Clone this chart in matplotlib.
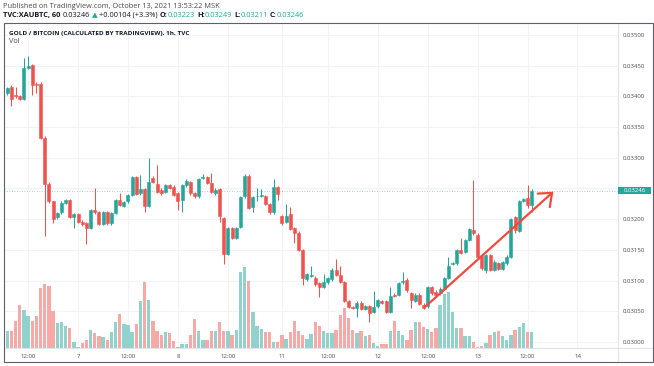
import matplotlib
matplotlib.use("Agg")
import matplotlib.pyplot as plt
import matplotlib.transforms as mtransforms
from matplotlib.patches import Rectangle, FancyArrowPatch
from matplotlib.lines import Line2D

# ---------------- data ----------------
opens = [0.03406, 0.03416, 0.03402, 0.03401, 0.03396, 0.03446, 0.03451, 0.03421, 0.03421, 0.03333,
         0.03258, 0.03229, 0.03204, 0.03211, 0.03226, 0.03231, 0.03204, 0.03208, 0.03196, 0.03194,
         0.03186, 0.03215, 0.03211, 0.03192, 0.03211, 0.03193, 0.03210, 0.03231, 0.03222, 0.03229,
         0.03239, 0.03268, 0.03242, 0.03249, 0.03222, 0.03267, 0.03258, 0.03248, 0.03244, 0.03255,
         0.03253, 0.03242, 0.03231, 0.03255, 0.03261, 0.03243, 0.03237, 0.03267, 0.03269, 0.03259,
         0.03242, 0.03249, 0.03202, 0.03143, 0.03185, 0.03170, 0.03187, 0.03237, 0.03271, 0.03220,
         0.03237, 0.03238, 0.03238, 0.03225, 0.03211, 0.03252, 0.03205, 0.03196, 0.03208, 0.03185,
         0.03178, 0.03150, 0.03102, 0.03108, 0.03105, 0.03096, 0.03090, 0.03097, 0.03102, 0.03117,
         0.03109, 0.03097, 0.03067, 0.03057, 0.03055, 0.03064, 0.03054, 0.03059, 0.03049, 0.03058,
         0.03066, 0.03066, 0.03049, 0.03077, 0.03077, 0.03097, 0.03101, 0.03080, 0.03067, 0.03077,
         0.03061, 0.03058, 0.03090, 0.03082, 0.03079, 0.03087, 0.03104, 0.03127, 0.03128, 0.03150,
         0.03147, 0.03166, 0.03182, 0.03175, 0.03140, 0.03118, 0.03142, 0.03117, 0.03128, 0.03119,
         0.03128, 0.03139, 0.03204, 0.03181, 0.03230, 0.03235, 0.03223]
highs = [0.03416, 0.03418, 0.03416, 0.03403, 0.03462, 0.03466, 0.03453, 0.03424, 0.03423, 0.03335,
         0.03260, 0.03230, 0.03212, 0.03229, 0.03233, 0.03233, 0.03210, 0.03210, 0.03198, 0.03196,
         0.03217, 0.03250, 0.03213, 0.03213, 0.03213, 0.03212, 0.03233, 0.03243, 0.03230, 0.03241,
         0.03270, 0.03270, 0.03272, 0.03251, 0.03299, 0.03270, 0.03288, 0.03250, 0.03257, 0.03257,
         0.03255, 0.03244, 0.03257, 0.03265, 0.03263, 0.03245, 0.03267, 0.03274, 0.03271, 0.03275,
         0.03250, 0.03251, 0.03204, 0.03187, 0.03187, 0.03187, 0.03238, 0.03273, 0.03273, 0.03238,
         0.03250, 0.03249, 0.03240, 0.03227, 0.03265, 0.03254, 0.03207, 0.03224, 0.03220, 0.03187,
         0.03180, 0.03152, 0.03112, 0.03123, 0.03107, 0.03098, 0.03110, 0.03106, 0.03120, 0.03135,
         0.03123, 0.03099, 0.03069, 0.03059, 0.03066, 0.03066, 0.03061, 0.03061, 0.03083, 0.03070,
         0.03068, 0.03068, 0.03090, 0.03079, 0.03098, 0.03114, 0.03105, 0.03082, 0.03079, 0.03079,
         0.03063, 0.03092, 0.03092, 0.03084, 0.03089, 0.03106, 0.03138, 0.03130, 0.03152, 0.03169,
         0.03168, 0.03186, 0.03264, 0.03177, 0.03142, 0.03144, 0.03144, 0.03133, 0.03130, 0.03132,
         0.03141, 0.03202, 0.03206, 0.03232, 0.03235, 0.03256, 0.03249]
lows = [0.03403, 0.03385, 0.03397, 0.03394, 0.03394, 0.03444, 0.03402, 0.03405, 0.03331, 0.03172,
        0.03226, 0.03194, 0.03200, 0.03208, 0.03224, 0.03202, 0.03185, 0.03193, 0.03189, 0.03160,
        0.03184, 0.03209, 0.03190, 0.03190, 0.03191, 0.03191, 0.03208, 0.03221, 0.03220, 0.03227,
        0.03237, 0.03239, 0.03240, 0.03211, 0.03220, 0.03259, 0.03243, 0.03240, 0.03242, 0.03249,
        0.03237, 0.03215, 0.03211, 0.03253, 0.03240, 0.03235, 0.03235, 0.03265, 0.03257, 0.03243,
        0.03240, 0.03196, 0.03127, 0.03141, 0.03168, 0.03168, 0.03185, 0.03235, 0.03217, 0.03212,
        0.03229, 0.03236, 0.03223, 0.03209, 0.03209, 0.03232, 0.03191, 0.03194, 0.03182, 0.03161,
        0.03148, 0.03093, 0.03100, 0.03106, 0.03092, 0.03074, 0.03088, 0.03095, 0.03100, 0.03107,
        0.03096, 0.03065, 0.03055, 0.03053, 0.03041, 0.03052, 0.03052, 0.03033, 0.03047, 0.03056,
        0.03062, 0.03047, 0.03047, 0.03073, 0.03075, 0.03095, 0.03082, 0.03055, 0.03065, 0.03060,
        0.03053, 0.03056, 0.03077, 0.03075, 0.03077, 0.03085, 0.03102, 0.03125, 0.03126, 0.03143,
        0.03145, 0.03164, 0.03175, 0.03136, 0.03118, 0.03113, 0.03116, 0.03115, 0.03117, 0.03117,
        0.03126, 0.03137, 0.03177, 0.03179, 0.03228, 0.03218, 0.03211]
closes = [0.03413, 0.03396, 0.03400, 0.03396, 0.03446, 0.03450, 0.03419, 0.03418, 0.03333, 0.03258,
          0.03229, 0.03201, 0.03210, 0.03227, 0.03231, 0.03204, 0.03208, 0.03196, 0.03192, 0.03186,
          0.03215, 0.03211, 0.03192, 0.03211, 0.03193, 0.03210, 0.03231, 0.03223, 0.03228, 0.03239,
          0.03268, 0.03241, 0.03249, 0.03222, 0.03261, 0.03261, 0.03245, 0.03242, 0.03255, 0.03251,
          0.03239, 0.03230, 0.03255, 0.03263, 0.03242, 0.03237, 0.03265, 0.03269, 0.03259, 0.03245,
          0.03248, 0.03205, 0.03144, 0.03185, 0.03170, 0.03185, 0.03236, 0.03271, 0.03219, 0.03236,
          0.03238, 0.03239, 0.03225, 0.03211, 0.03252, 0.03241, 0.03193, 0.03205, 0.03184, 0.03178,
          0.03150, 0.03105, 0.03110, 0.03109, 0.03094, 0.03090, 0.03097, 0.03104, 0.03118, 0.03109,
          0.03098, 0.03067, 0.03057, 0.03055, 0.03064, 0.03054, 0.03059, 0.03048, 0.03057, 0.03068,
          0.03064, 0.03049, 0.03075, 0.03075, 0.03096, 0.03099, 0.03084, 0.03068, 0.03077, 0.03062,
          0.03056, 0.03090, 0.03079, 0.03077, 0.03087, 0.03104, 0.03123, 0.03128, 0.03150, 0.03145,
          0.03166, 0.03184, 0.03177, 0.03138, 0.03120, 0.03142, 0.03118, 0.03131, 0.03119, 0.03130,
          0.03139, 0.03200, 0.03182, 0.03230, 0.03233, 0.03223, 0.03246]
volumes = [52, 52, 82, 128, 113, 97, 82, 97, 180, 193,
           185, 110, 75, 77, 65, 60, 18, 3, 15, 25,
           55, 45, 35, 33, 25, 47, 77, 102, 72, 68,
           48, 72, 140, 197, 145, 82, 52, 38, 48, 45,
           22, 3, 12, 13, 38, 88, 50, 25, 25, 50,
           50, 77, 50, 50, 38, 55, 227, 243, 202, 107,
           65, 58, 48, 48, 17, 17, 38, 28, 48, 80,
           52, 40, 27, 43, 77, 65, 50, 45, 45, 55,
           100, 120, 90, 55, 45, 50, 35, 40, 15, 7,
           13, 13, 50, 80, 50, 40, 25, 55, 78, 78,
           63, 58, 48, 61, 128, 163, 168, 108, 61, 61,
           35, 35, 18, 3, 5, 15, 38, 48, 50, 35,
           23, 38, 53, 63, 75, 48, 48]

time_tick_bars = [5, 17, 29, 41, 53, 66, 77, 89, 101, 113, 125, 137]
time_tick_labels = ["12:00", "7", "12:00", "8", "12:00", "11", "12:00", "12", "12:00", "13", "12:00", "14"]
price_ticks = [0.03000, 0.03050, 0.03100, 0.03150, 0.03200, 0.03250,
               0.03300, 0.03350, 0.03400, 0.03450, 0.03500]
# the 0.03250 label is covered by the last-price label in the reference
price_tick_labels = ["0.03000", "0.03050", "0.03100", "0.03150", "0.03200", "",
                     "0.03300", "0.03350", "0.03400", "0.03450", "0.03500"]
last_price = 0.03246
arrow_start = (100.4, 0.030573)
arrow_end = (131.2, 0.032448)

title_line1 = "Published on TradingView.com, October 13, 2021 13:53:22 MSK"
legend_pieces = [("TVC:XAUBTC, 60", "dark", "bold"), ("0.03246", "dark", "normal"),
                 ("\u25B2", "up", "normal"), ("+0.00104 (+3.3%)", "dark", "normal"),
                 ("O:", "dark", "bold"), ("0.03223", "up", "normal"),
                 ("H:", "dark", "bold"), ("0.03249", "up", "normal"),
                 ("L:", "dark", "bold"), ("0.03211", "up", "normal"),
                 ("C:", "dark", "bold"), ("0.03246", "up", "normal")]
pane_title = "GOLD / BITCOIN (CALCULATED BY TRADINGVIEW), 1h, TVC"
vol_title = "Vol"

# ---------------- style ----------------
UP = "#26a69a"
DOWN = "#ef5350"
UP_VOL = "#92d2cc"
DOWN_VOL = "#f7a9a7"
ARROW = "#ef4a3d"
DARK = "#131722"
GRAY = "#4a4a4a"
GRID = "#f2f3f6"
SEP = "#e0e3eb"

plt.rcParams['font.family'] = ['Open Sans', 'DejaVu Sans']

W, H = 654, 366
fig = plt.figure(figsize=(W / 100, H / 100), dpi=100)
fig.patch.set_facecolor("white")


def fx(px):
    return px / W


def fy(py):
    return 1 - py / H


PL, PR, PT, PB = 4, 618, 23, 348
rect = [fx(PL), fy(PB), (PR - PL) / W, (PB - PT) / H]
axv = fig.add_axes(rect)
ax = fig.add_axes(rect)
ax.patch.set_alpha(0)

px_per_bar = 4.162
x0_px = 7.3
xlim = ((PL - x0_px) / px_per_bar, (PR - x0_px) / px_per_bar)
price_per_px = 0.0005 / 30.7
ylim = (0.03 - (PB - 342) * price_per_px, 0.03 + (342 - PT) * price_per_px)

for a in (ax, axv):
    a.set_xlim(*xlim)
    for s in a.spines.values():
        s.set_visible(False)
ax.set_ylim(*ylim)
axv.set_ylim(0, (PB - PT) * 3)
axv.set_yticks([])
axv.set_xticks([])

idx = list(range(len(closes)))
up = [c >= o for o, c in zip(opens, closes)]
ccol = [UP if u else DOWN for u in up]
vcol = [UP_VOL if u else DOWN_VOL for u in up]

# grid (in the lower axes so it sits behind the volume)
blend = mtransforms.blended_transform_factory(axv.transAxes, ax.transData)
for p in price_ticks:
    axv.add_line(Line2D([0, 1], [p, p], transform=blend, color=GRID, lw=0.8, zorder=0))
for t in time_tick_bars:
    axv.axvline(t, color=GRID, lw=0.8, zorder=0)

# volume
axv.bar(idx, volumes, width=0.8, color=vcol, linewidth=0, zorder=2)

# candles
ax.vlines(idx, lows, highs, colors=ccol, linewidth=0.75, zorder=3)
bodies = [abs(c - o) for o, c in zip(opens, closes)]
bottoms = [min(o, c) for o, c in zip(opens, closes)]
ax.bar(idx, bodies, bottom=bottoms, width=0.72, color=ccol, edgecolor=ccol,
       linewidth=0.4, zorder=4)

# last price dotted line
ax.axhline(last_price, color=UP, lw=0.6, alpha=0.6, linestyle=(0, (1, 2)), zorder=2)

# axes ticks
ax.yaxis.tick_right()
ax.set_yticks(price_ticks)
ax.set_yticklabels(price_tick_labels)
ax.tick_params(axis='y', length=0, pad=3.6, labelsize=4.3, labelcolor=GRAY)
ax.set_xticks(time_tick_bars)
ax.set_xticklabels(time_tick_labels)
ax.tick_params(axis='x', length=0, pad=4.0, labelsize=4.3, labelcolor=GRAY)

# last price label box
bt = mtransforms.blended_transform_factory(fig.transFigure, ax.transData)
box_h = 7 * price_per_px
fig.patches.append(Rectangle((fx(618), last_price - box_h / 2), (651 - 618) / W, box_h,
                             transform=bt, facecolor=UP, edgecolor="none", zorder=5))
fig.text(fx(634.5), last_price, f"{last_price:.5f}", transform=bt, ha="center",
         va="center", color="white", fontsize=4.3, zorder=6)

# arrow drawing
arr = FancyArrowPatch(arrow_start, arrow_end, transform=ax.transData,
                      arrowstyle="->,head_length=0.8,head_width=0.65", mutation_scale=10,
                      color=ARROW, linewidth=1.6, shrinkA=0, shrinkB=0, zorder=6,
                      clip_on=False, capstyle="round", joinstyle="miter")
ax.add_patch(arr)

# frame and separators
fig.add_artist(Line2D([fx(PR), fx(PR)], [fy(PT), fy(362)], transform=fig.transFigure,
                      color=SEP, lw=0.8))
fig.add_artist(Line2D([fx(PL), fx(653)], [fy(PB), fy(PB)], transform=fig.transFigure,
                      color=SEP, lw=0.8))
fig.patches.append(Rectangle((fx(PL), fy(362)), (653 - PL) / W, (362 - PT) / H,
                             transform=fig.transFigure, fill=False, edgecolor="#5d606b",
                             lw=0.8, zorder=10))

# header texts (size fitted to the measured width in the reference)
renderer = fig.canvas.get_renderer()


def fitted(txt, x, y, target_w, **kw):
    t = fig.text(fx(x), fy(y), txt, fontsize=10, va="center", ha="left", **kw)
    w = t.get_window_extent(renderer=renderer).width
    t.set_fontsize(10 * target_w / w)
    return t


t1 = fitted(title_line1, 3, 6, 215, color=GRAY)
size_hdr = t1.get_fontsize()

cmap = {"dark": DARK, "up": UP}
xpos = 3.0
space_px = size_hdr * 100 / 72 * 0.27
for i, (txt, col, wt) in enumerate(legend_pieces):
    t = fig.text(fx(xpos), fy(15.5), txt, fontsize=size_hdr, fontweight=wt,
                 color=cmap[col], va="center", ha="left")
    w = t.get_window_extent(renderer=renderer).width
    xpos += w
    if not txt.endswith(":"):
        xpos += space_px

fitted(pane_title, 9.3, 33, 179, color=DARK, fontweight="bold")
fig.text(fx(9.3), fy(41.5), vol_title, fontsize=size_hdr, color=GRAY, va="center", ha="left")

fig.savefig("out.png", dpi=100, facecolor="white")
